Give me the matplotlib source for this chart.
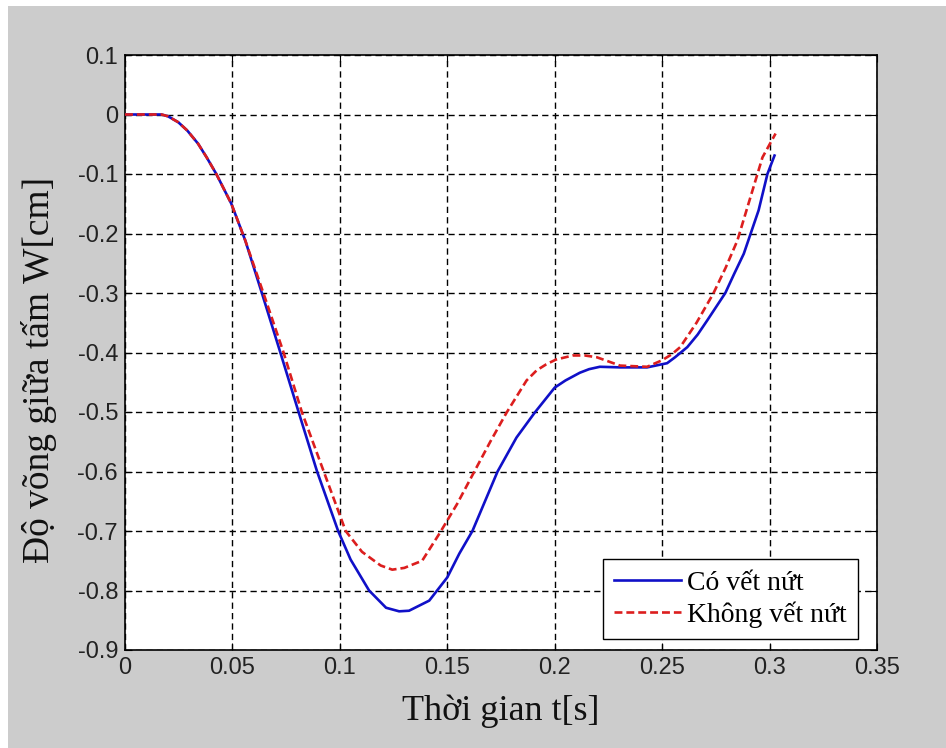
import matplotlib.pyplot as plt
from matplotlib.patches import Rectangle

# ---- data ----
t_crack = [0, 0.017, 0.020, 0.0248, 0.029, 0.034, 0.038, 0.0425, 0.0495, 0.056,
           0.0637, 0.0723, 0.0808, 0.0894, 0.0992, 0.105, 0.1136, 0.1215, 0.1276, 0.1322,
           0.1416, 0.15, 0.1556, 0.1617, 0.1734, 0.1822, 0.1907, 0.2, 0.205, 0.2117,
           0.216, 0.221, 0.2304, 0.243, 0.2523, 0.256, 0.2617, 0.2665, 0.271, 0.2794,
           0.2835, 0.288, 0.2949, 0.299, 0.3023]
w_crack = [0, 0, -0.003, -0.013, -0.027, -0.049, -0.072, -0.100, -0.150, -0.212,
           -0.300, -0.400, -0.500, -0.600, -0.700, -0.748, -0.800, -0.829, -0.835, -0.834,
           -0.817, -0.778, -0.738, -0.700, -0.600, -0.543, -0.501, -0.459, -0.447, -0.434,
           -0.428, -0.424, -0.425, -0.425, -0.418, -0.408, -0.391, -0.370, -0.346, -0.300,
           -0.268, -0.234, -0.161, -0.100, -0.069]

t_nocrack = [0, 0.017, 0.020, 0.0248, 0.029, 0.034, 0.038, 0.0425, 0.0495, 0.056,
             0.0644, 0.0738, 0.0823, 0.0925, 0.1027, 0.1103, 0.119, 0.1244, 0.1300, 0.1383,
             0.1464, 0.1545, 0.1626, 0.170, 0.1776, 0.1869, 0.1916, 0.196, 0.2005, 0.2084,
             0.214, 0.2196, 0.225, 0.2304, 0.243, 0.25, 0.2545, 0.2584, 0.266, 0.2738,
             0.2795, 0.285, 0.2911, 0.2967, 0.3028]
w_nocrack = [0, 0, -0.003, -0.013, -0.027, -0.049, -0.072, -0.100, -0.150, -0.212,
             -0.300, -0.400, -0.500, -0.600, -0.700, -0.735, -0.758, -0.765, -0.762, -0.750,
             -0.704, -0.655, -0.600, -0.550, -0.501, -0.447, -0.430, -0.420, -0.412, -0.405,
             -0.405, -0.408, -0.415, -0.422, -0.424, -0.413, -0.403, -0.391, -0.350, -0.301,
             -0.258, -0.212, -0.139, -0.072, -0.032]

xticks = [0, 0.05, 0.1, 0.15, 0.2, 0.25, 0.3, 0.35]
xticklabels = ['0', '0.05', '0.1', '0.15', '0.2', '0.25', '0.3', '0.35']
yticks = [0.1, 0, -0.1, -0.2, -0.3, -0.4, -0.5, -0.6, -0.7, -0.8, -0.9]
yticklabels = ['0.1', '0', '-0.1', '-0.2', '-0.3', '-0.4', '-0.5', '-0.6', '-0.7', '-0.8', '-0.9']

# ---- figure (matlab-like grey window) ----
W, H = 946, 748
fig = plt.figure(figsize=(W / 100, H / 100), dpi=100, facecolor='white')
fig.patches.append(Rectangle((8 / W, 0), 1 - 8 / W, 1 - 6 / H, transform=fig.transFigure,
                             facecolor='#cccccc', edgecolor='none', zorder=-10))

ax = fig.add_axes([125 / W, 1 - 650 / H, 752 / W, 595 / H])
ax.set_facecolor('white')

ax.plot(t_crack, w_crack, color='#1010c8', lw=1.9, label='Có vết nứt', zorder=3,
        solid_joinstyle='round')
ax.plot(t_nocrack, w_nocrack, color='#dc1e1e', lw=1.9, ls=(0, (3, 1.5)),
        label='Không vết nứt', zorder=4)

ax.set_xlim(0, 0.35)
ax.set_ylim(-0.9, 0.1)
ax.set_xticks(xticks)
ax.set_xticklabels(xticklabels)
ax.set_yticks(yticks)
ax.set_yticklabels(yticklabels)
ax.tick_params(direction='in', length=5, width=0.8, top=True, right=True,
               labelsize=17, pad=5)
for lab in ax.get_xticklabels() + ax.get_yticklabels():
    lab.set_family('Liberation Sans')
    lab.set_color('#222222')

ax.grid(True, color='black', ls=(0, (4.5, 3)), lw=1.0)
for sp in ax.spines.values():
    sp.set_linewidth(1.2)

ax.set_xlabel('Thời gian t[s]', family='Liberation Serif', fontsize=26, labelpad=11,
              color='#111111')
ax.set_ylabel('Độ võng giữa tấm W[cm]', family='Liberation Serif', fontsize=27,
              color='#111111')
ax.yaxis.set_label_coords(-0.091, 0.47)

leg = ax.legend(loc='lower right', bbox_to_anchor=(0.975, 0.0185), borderaxespad=0,
                prop={'family': 'Liberation Serif', 'size': 20}, fancybox=False,
                framealpha=1, edgecolor='black', handlelength=2.4, handletextpad=0.25,
                borderpad=0.4, labelspacing=0.2)
leg.get_frame().set_linewidth(1.0)

fig.savefig('out.png', dpi=100, facecolor=fig.get_facecolor())
